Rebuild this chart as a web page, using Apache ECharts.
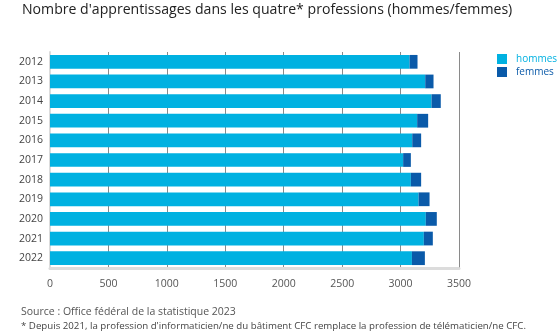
<!DOCTYPE html>
<html>
<head>
<meta charset="utf-8">
<script src="https://cdn.jsdelivr.net/npm/echarts@6/dist/echarts.min.js"></script>
<style>
html,body{margin:0;padding:0;background:#fff;}
#c{width:560px;height:336px;}
</style>
</head>
<body>
<div id="c"></div>
<script>
const years = ['2012','2013','2014','2015','2016','2017','2018','2019','2020','2021','2022'];
const hommes = [3077,3211,3265,3142,3100,3022,3088,3154,3216,3199,3097];
const femmes = [68,71,79,94,76,66,88,94,94,77,111];
const xTicks = [0,500,1000,1500,2000,2500,3000,3500];

const titleText = "Nombre d'apprentissages dans les quatre* professions (hommes/femmes)";
const sourceText = "Source : Office fédéral de la statistique 2023";
const noteText = "* Depuis 2021, la profession d'informaticien/ne du bâtiment CFC remplace la profession de télématicien/ne CFC.";

const C_H = '#00b1e1';
const C_F = '#0a5aa9';
const FAM = '"Open Sans", Lato, sans-serif';

function fitSize(text, target){
  const ctx = document.createElement('canvas').getContext('2d');
  ctx.font = '100px ' + FAM;
  const w = ctx.measureText(text).width;
  return Math.round(100 * target / w * 10) / 10;
}
const titleSize = fitSize(titleText, 490);
const sourceSize = fitSize(sourceText, 214);
const noteSize = fitSize(noteText, 505);

const chart = echarts.init(document.getElementById('c'), null, {renderer:'canvas'});
chart.setOption({
  animation:false,
  backgroundColor:'#fff',
  textStyle:{fontFamily:FAM},
  title:{
    text:titleText, left:17, top:-2,
    textStyle:{fontSize:titleSize, fontWeight:'normal', color:'#222', fontFamily:FAM}
  },
  legend:{
    orient:'vertical', left:492, top:49,
    itemWidth:10, itemHeight:10, itemGap:3,
    icon:'rect',
    textStyle:{fontSize:10, fontFamily:FAM, padding:[0,0,0,4]},
    data:[
      {name:'hommes', textStyle:{color:C_H}},
      {name:'femmes', textStyle:{color:C_F}}
    ]
  },
  grid:{left:50, right:101, top:52, bottom:68},
  xAxis:{
    type:'value', min:0, max:3500, interval:500,
    axisLine:{show:true, lineStyle:{color:'#dcdcdc', width:3}},
    axisTick:{show:false},
    axisLabel:{color:'#555', fontSize:10.5, margin:11, fontFamily:FAM,
      formatter:function(v){return xTicks.indexOf(v)>=0 ? String(v) : '';}},
    splitLine:{show:true, lineStyle:{color:'#8a8a8a', width:1}}
  },
  yAxis:{
    type:'category', data:years, inverse:true,
    axisLine:{show:true, lineStyle:{color:'#dcdcdc', width:2}},
    axisTick:{show:false},
    axisLabel:{color:'#444', fontSize:10.5, margin:7, fontFamily:FAM}
  },
  series:[
    {name:'hommes', type:'bar', stack:'t', data:hommes, barCategoryGap:'30%',
      itemStyle:{color:C_H}},
    {name:'femmes', type:'bar', stack:'t', data:femmes,
      itemStyle:{color:C_F}}
  ],
  graphic:[
    {type:'text', left:21, top:307, style:{text:sourceText, fill:'#555', font:sourceSize+'px '+FAM}},
    {type:'text', left:21, top:321, style:{text:noteText, fill:'#444', font:noteSize+'px '+FAM}}
  ]
});
</script>
</body>
</html>
